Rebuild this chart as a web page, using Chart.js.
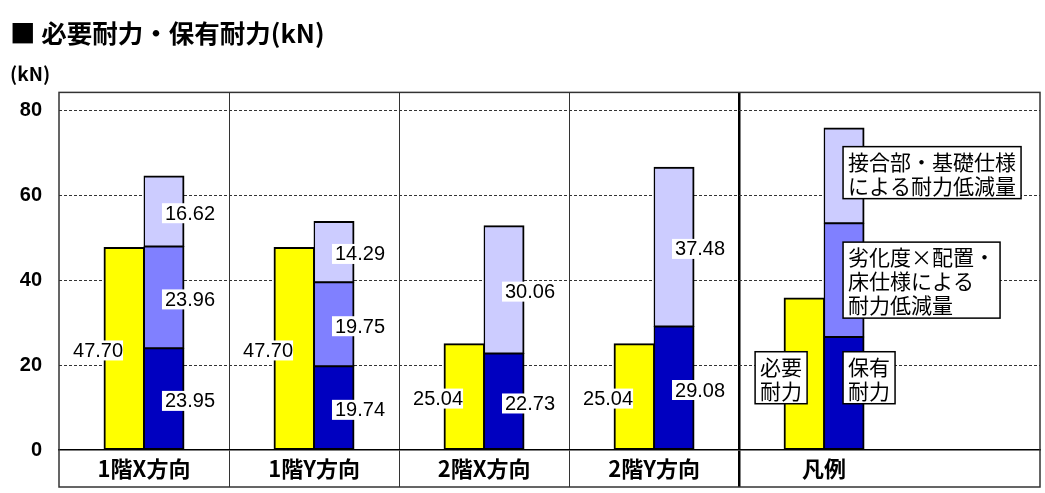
<!DOCTYPE html>
<html>
<head>
<meta charset="utf-8">
<script src="https://cdn.jsdelivr.net/npm/chart.js@4.4.1/dist/chart.umd.min.js"></script>
<style>
html, body { margin: 0; padding: 0; background: #fff; }
#wrap { width: 1045px; height: 493px; position: relative; }
</style>
</head>
<body>
<div id="wrap"><canvas id="chart"></canvas></div>
<script>
/* ---------------------------------------------------------------- */
/* データ */
var categories = ['1階X方向', '1階Y方向', '2階X方向', '2階Y方向', '凡例'];
var requiredKN = [47.70, 47.70, 25.04, 25.04, 35.8];   // 必要耐力
var heldKN     = [23.95, 19.74, 22.73, 29.08, 26.6];   // 保有耐力
var wearCutKN  = [23.96, 19.75, 0, 0, 26.8];           // 劣化度×配置・床仕様による低減量
var jointCutKN = [16.62, 14.29, 30.06, 37.48, 22.4];   // 接合部・基礎仕様による低減量
var yTicks = [0, 20, 40, 60, 80];
var yMax = 84.2;
var xMax = 5.77;   // 凡例欄の右に余白が続く
var noteLines = [
    ['必要', '耐力'],
    ['保有', '耐力'],
    ['劣化度×配置・', '床仕様による', '耐力低減量'],
    ['接合部・基礎仕様', 'による耐力低減量']
];

var JP = '"Noto Sans CJK JP", "Noto Sans", sans-serif';
var NUM = '"Liberation Sans", Arial, sans-serif';
var LABEL_BAND = 37;   // 項目名の帯の高さ

function toPoints(arr) {
    return arr.map((v, i) => ({ x: i + 0.5, y: v }));
}

/* ---------------------------------------------------------------- */
/* 数値ラベル(白地) */
var valueLabels = {
    id: 'valueLabels',
    afterDatasetsDraw(chart) {
        var ctx = chart.ctx;
        ctx.save();
        ctx.font = '20px ' + NUM;
        ctx.textBaseline = 'middle';
        ctx.textAlign = 'center';
        chart.data.datasets.forEach((ds, di) => {
            chart.getDatasetMeta(di).data.forEach((bar, i) => {
                var v = ds.data[i].y;
                if (i == categories.length - 1 || !v) return;
                var txt = v.toFixed(2);
                var w = ctx.measureText(txt).width;
                var cx = bar.x + (ds.stack == 'req' ? -26 : 26);
                var cy = (bar.y + bar.base) / 2 + 2;
                ctx.fillStyle = '#fff';
                ctx.fillRect(cx - w / 2 - 3, cy - 10, w + 3, 20);
                ctx.fillStyle = '#000';
                ctx.fillText(txt, cx, cy + 1);
            });
        });
        ctx.restore();
    }
};

/* 凡例欄の説明枠 */
function drawNote(ctx, lines, ax, cy, side) {
    var lh = 24, pad = 5;
    var w = Math.max.apply(null, lines.map(s => ctx.measureText(s).width)) + pad * 2;
    var h = lines.length * lh + 4;
    var left = (side == 'right') ? ax - w : ax;
    var top = cy - h / 2;
    ctx.fillStyle = '#fff';
    ctx.fillRect(left, top, w, h);
    ctx.strokeStyle = '#000';
    ctx.lineWidth = 1.5;
    ctx.strokeRect(left, top, w, h);
    ctx.fillStyle = '#000';
    lines.forEach((s, j) => ctx.fillText(s, left + pad, top + 2 + lh * j + lh / 2 + 1));
}

var legendNotes = {
    id: 'legendNotes',
    afterDatasetsDraw(chart) {
        var k = categories.length - 1;
        var bars = chart.data.datasets.map((ds, di) => chart.getDatasetMeta(di).data[k]);
        var mid = b => (b.y + b.base) / 2;
        var ctx = chart.ctx;
        ctx.save();
        ctx.font = '21px ' + JP;
        ctx.textAlign = 'left';
        ctx.textBaseline = 'middle';
        drawNote(ctx, noteLines[0], bars[0].x + 3, mid(bars[0]) + 4, 'right');
        drawNote(ctx, noteLines[1], bars[1].x - 1, mid(bars[0]) + 4, 'left');
        drawNote(ctx, noteLines[2], bars[2].x - 1, mid(bars[2]), 'left');
        drawNote(ctx, noteLines[3], bars[3].x - 1, mid(bars[3]) - 3, 'left');
        ctx.restore();
    }
};

/* 外枠 */
var outerFrame = {
    id: 'outerFrame',
    afterDraw(chart) {
        var a = chart.chartArea, ctx = chart.ctx;
        ctx.save();
        ctx.strokeStyle = '#333';
        ctx.lineWidth = 1.5;
        ctx.strokeRect(a.left, a.top, a.right - a.left, a.bottom + LABEL_BAND - a.top);
        ctx.restore();
    }
};

/* ---------------------------------------------------------------- */
/* グラフ */
var xTickVals = [];
categories.forEach((c, i) => { xTickVals.push(i, i + 0.5); });

// 隣り合う棒の境目が太くなりすぎないよう辺ごとに太さを分ける
var reqBorder  = { left: 2, right: 1.5, top: 2, bottom: 2 };
var capBorder  = { left: 1.5, right: 2, top: 1.5, bottom: 2 };
var midBorder  = { left: 1.5, right: 2, top: 1.5, bottom: 1.5 };
var topBorder  = { left: 1.5, right: 2, top: 2, bottom: 1.5 };

function barSet(label, values, stack, fill, border) {
    return {
        label: label,
        data: toPoints(values),
        stack: stack,
        backgroundColor: fill,
        borderColor: '#000',
        borderWidth: border,
        borderSkipped: false,
        inflateAmount: 0.5   // 積み上げの継ぎ目に白い隙間が出ないように
    };
}

new Chart(document.getElementById('chart'), {
    type: 'bar',
    data: {
        datasets: [
            barSet('必要耐力', requiredKN, 'req', '#FFFF00', reqBorder),
            barSet('保有耐力', heldKN, 'cap', '#0000C0', capBorder),
            barSet('劣化度×配置・床仕様による耐力低減量', wearCutKN, 'cap', '#8080FF', midBorder),
            barSet('接合部・基礎仕様による耐力低減量', jointCutKN, 'cap', '#CCCCFF', topBorder)
        ]
    },
    options: {
        responsive: true,
        maintainAspectRatio: false,
        animation: false,
        devicePixelRatio: 1,
        categoryPercentage: 0.94,   // 目盛りが半区間ごとなので2倍
        barPercentage: 1.0,
        layout: { padding: { left: 10, right: 5, top: 0, bottom: 6 } },
        plugins: {
            legend: { display: false },
            tooltip: { enabled: false },
            title: {
                display: true,
                text: '■ 必要耐力・保有耐力(kN)',
                align: 'start',
                color: '#000',
                font: { family: JP, size: 25.5, weight: 'bold' },
                padding: { top: 18, bottom: 6 }
            },
            subtitle: {
                display: true,
                text: '(kN)',
                align: 'start',
                color: '#000',
                font: { family: JP, size: 19, weight: 'bold' },
                padding: { top: 8, bottom: 7 }
            }
        },
        scales: {
            x: {
                type: 'linear',
                min: 0,
                max: xMax,
                stacked: true,
                offset: false,
                afterBuildTicks: (scale) => { scale.ticks = xTickVals.map(v => ({ value: v })); },
                afterFit: (scale) => { scale.height = LABEL_BAND; },
                grid: {
                    offset: false,
                    drawTicks: true,
                    tickLength: LABEL_BAND,
                    color: (c) => {
                        var v = c.tick ? c.tick.value : 0;
                        if (!Number.isInteger(v) || v == 0) return 'rgba(0,0,0,0)';
                        return v == categories.length - 1 ? '#000' : '#333';
                    },
                    lineWidth: (c) => (c.tick && c.tick.value == categories.length - 1) ? 2.5 : 1
                },
                border: { display: true, color: '#000', width: 1.5 },
                ticks: {
                    autoSkip: false,
                    maxRotation: 0,
                    minRotation: 0,
                    padding: -32,
                    color: '#000',
                    font: { family: JP, size: 22, weight: 'bold' },
                    callback: (v) => Number.isInteger(v) ? '' : (categories[Math.floor(v)] || '')
                }
            },
            y: {
                min: 0,
                max: yMax,
                stacked: true,
                afterBuildTicks: (scale) => { scale.ticks = yTicks.map(v => ({ value: v })); },
                afterFit: (scale) => { scale.width = 49; },
                grid: {
                    drawTicks: false,
                    color: (c) => (c.tick && c.tick.value == 0) ? 'rgba(0,0,0,0)' : '#333',
                    lineWidth: 1
                },
                border: { display: false, dash: [3, 2] },
                ticks: {
                    padding: 17,
                    color: '#000',
                    font: { family: NUM, size: 20, weight: 'bold' }
                }
            }
        }
    },
    plugins: [valueLabels, legendNotes, outerFrame]
});
</script>
</body>
</html>
